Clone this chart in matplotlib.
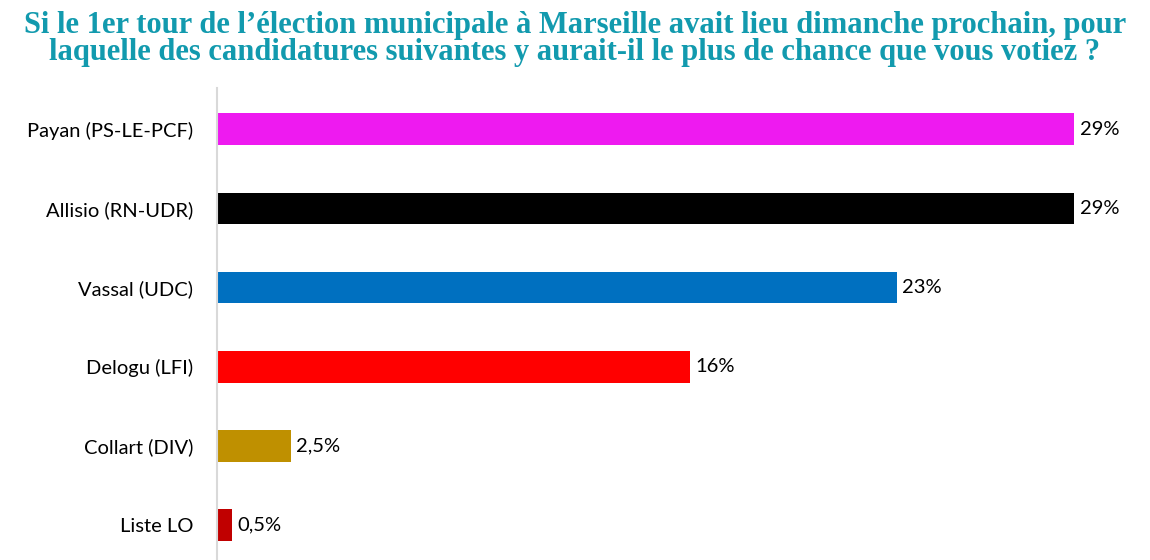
import matplotlib
matplotlib.use("Agg")
import matplotlib.pyplot as plt

# données du sondage
candidats = ["Payan (PS-LE-PCF)", "Allisio (RN-UDR)", "Vassal (UDC)",
             "Delogu (LFI)", "Collart (DIV)", "Liste LO"]
scores = [29, 29, 23, 16, 2.5, 0.5]
etiquettes = ["29%", "29%", "23%", "16%", "2,5%", "0,5%"]
couleurs = ["#EE1AF0", "#000000", "#0070C0", "#FF0000", "#BF9000", "#C00000"]

titre = ("Si le 1er tour de l\u2019élection municipale à Marseille avait lieu dimanche prochain, pour\n"
         "laquelle des candidatures suivantes y aurait-il le plus de chance que vous votiez ?")

W, H = 1150, 560
fig = plt.figure(figsize=(W / 100, H / 100), dpi=100)
ax = fig.add_axes([217 / W, 0, (W - 217) / W, 1 - 88 / H])

pos = list(range(len(candidats)))
ax.barh(pos, scores, height=0.40, color=couleurs)
ax.set_xlim(0, (W - 217) / 29.55)
ax.set_ylim(len(candidats) - 1 + 0.44, -0.52)

for p, s, lab in zip(pos, scores, etiquettes):
    ax.annotate(lab, (s, p), xytext=(4, 0), textcoords="offset points",
                va="center", ha="left", fontsize=14.5, family="Lato", color="#000000")

ax.set_yticks(pos)
ax.set_yticklabels(candidats, fontsize=14.5, family="Lato")
ax.tick_params(axis="y", length=0, pad=17)
ax.set_xticks([])
for side in ["top", "right", "bottom"]:
    ax.spines[side].set_visible(False)
ax.spines["left"].set_color("#D9D9D9")
ax.spines["left"].set_linewidth(1.5)

fig.text(0.5, 1 - 11 / H, titre, ha="center", va="top", fontsize=22,
         fontweight="bold", family="Liberation Serif", color="#129AAE", linespacing=0.9)

fig.savefig("out.png", dpi=100)
